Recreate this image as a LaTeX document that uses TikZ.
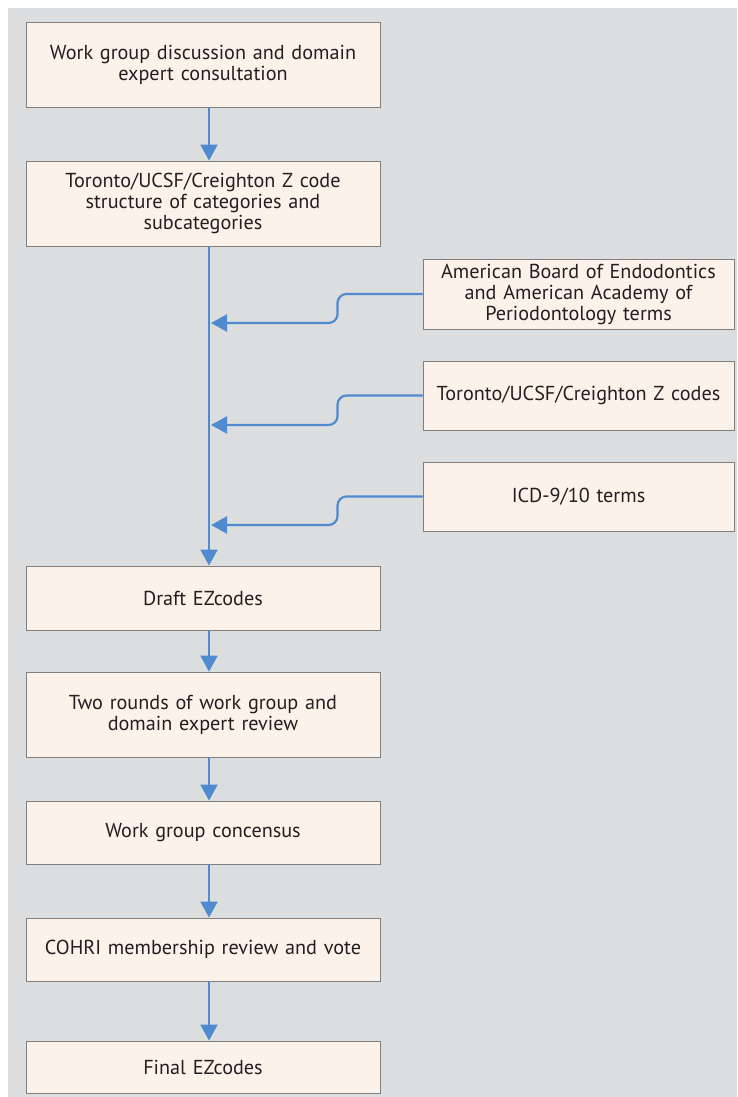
\documentclass[tikz,border=0pt]{standalone}
\usepackage{fontspec}
\setmainfont{PT Sans}
\usetikzlibrary{arrows.meta}
\definecolor{panel}{HTML}{DCDDDF}
\definecolor{boxfill}{HTML}{FDF2EA}
\definecolor{boxline}{HTML}{7F7F7F}
\definecolor{flow}{HTML}{4F8BCE}
\definecolor{ink}{HTML}{231F20}
\begin{document}
\begin{tikzpicture}[x=1pt,y=-1pt,
    stepbox/.style={draw=boxline,fill=boxfill,line width=0.9pt,inner sep=0pt,
      minimum width=354pt,minimum height=#1,text width=346pt,align=center,
      text=ink,font=\fontsize{20.2}{21}\selectfont},
    sidebox/.style={stepbox=#1,minimum width=311pt,text width=306pt},
    flowline/.style={draw=flow,line width=2.2pt,-{Triangle[length=16pt,width=17pt]}},
    feed/.style={flowline,rounded corners=9pt}]
  \useasboundingbox (0,0) rectangle (737,1097);
  \fill[panel] (8,8) rectangle (737,1097);
  % main column
  \node[stepbox=85pt] (consult) at (203,64.5) {Work group discussion and domain\\expert consultation};
  \node[stepbox=85pt] (zstruct) at (203,203.5) {Toronto/UCSF/Creighton Z code\\structure of categories and\\subcategories};
  \node[stepbox=64pt] (draft) at (203,598) {Draft EZcodes};
  \node[stepbox=85pt] (review) at (203,714.5) {Two rounds of work group and\\domain expert review};
  \node[stepbox=63pt] (consensus) at (203,832.5) {Work group concensus};
  \node[stepbox=63pt] (vote) at (203,949.5) {COHRI membership review and vote};
  \node[stepbox=52pt] (final) at (203,1067) {Final EZcodes};
  % sources on the right
  \node[sidebox=70pt] (aabe) at (578.5,294) {American Board of Endodontics\\and American Academy of\\Periodontology terms};
  \node[sidebox=69pt] (zcodes) at (578.5,395.5) {Toronto/UCSF/Creighton Z codes};
  \node[sidebox=69pt] (icd) at (578.5,496.5) {ICD-9/10 terms};
  % connectors
  \draw[flowline] ([xshift=6pt]consult.south) -- ([xshift=6pt]zstruct.north);
  \draw[flowline] ([xshift=6pt]zstruct.south) -- ([xshift=6pt]draft.north);
  \foreach \a/\b in {draft/review,review/consensus,consensus/vote,vote/final}
    \draw[flowline] ([xshift=6pt]\a.south) -- ([xshift=6pt]\b.north);
  \foreach \s/\d in {aabe/323,zcodes/425,icd/525}
    \draw[feed] (\s.west) -- ++(-85,0) |- ([xshift=8pt]zstruct.south |- 0,\d);
\end{tikzpicture}
\end{document}
